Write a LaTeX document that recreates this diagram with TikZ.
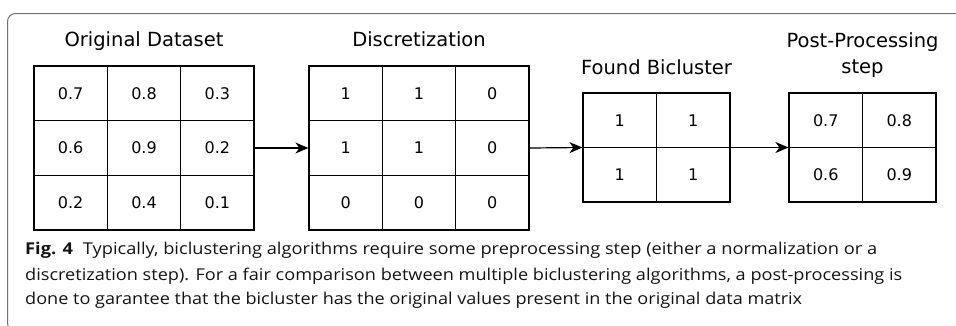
\documentclass[tikz,border=0pt]{standalone}
\usepackage{fontspec}
\usepackage{graphicx}
\setmainfont{DejaVu Sans}
\newfontfamily\capfont{Open Sans}
\usetikzlibrary{arrows.meta}
\definecolor{framec}{gray}{0.45}
\definecolor{capc}{gray}{0.08}
\tikzset{
  cell/.style={draw, line width=1.2pt, minimum width=73.33pt, minimum height=54.67pt, inner sep=0pt, font=\fontsize{16}{19}\selectfont},
  cellb/.style={cell, minimum width=73.5pt, minimum height=54.5pt},
  gridbox/.style={draw, line width=1.2pt, inner sep=0pt},
  gtitle/.style={anchor=base, inner sep=0pt, align=center, font=\fontsize{19.5}{26}\selectfont},
  arr/.style={line width=1.2pt, -{Stealth[length=13pt,width=11pt,inset=4pt]}},
  capline/.style={anchor=base west, inner sep=0pt, text=capc}
}
\newcommand\capf{\capfont\fontsize{16.3}{18}\selectfont}
\begin{document}
\begin{tikzpicture}[x=1pt,y=-1pt]
\useasboundingbox (0,0) rectangle (956,325);
\clip (0,0) rectangle (956,325);
% frame
\draw[framec, line width=1pt, rounded corners=8pt] (7.5,13.5) rectangle (990,331);
% grid boxes
\node[gridbox, minimum width=220pt, minimum height=164pt] (orig) at (144,148) {};
\node[gridbox, minimum width=220pt, minimum height=164pt] (disc) at (419,148) {};
\node[gridbox, minimum width=147pt, minimum height=109pt] (found) at (656.5,147.5) {};
\node[gridbox, minimum width=147pt, minimum height=109pt] (post) at (862.5,147.5) {};
% cells
\foreach \row [count=\i] in {{0.7,0.8,0.3},{0.6,0.9,0.2},{0.2,0.4,0.1}}
  \foreach \v [count=\j] in \row
    \node[cell] (o-\i-\j) at ({34+73.33*(\j-0.5)},{66+54.67*(\i-0.5)}) {\v};
\foreach \row [count=\i] in {{1,1,0},{1,1,0},{0,0,0}}
  \foreach \v [count=\j] in \row
    \node[cell] (d-\i-\j) at ({309+73.33*(\j-0.5)},{66+54.67*(\i-0.5)}) {\v};
\foreach \row [count=\i] in {{1,1},{1,1}}
  \foreach \v [count=\j] in \row
    \node[cellb] (f-\i-\j) at ({583+73.5*(\j-0.5)},{93+54.5*(\i-0.5)}) {\v};
\foreach \row [count=\i] in {{0.7,0.8},{0.6,0.9}}
  \foreach \v [count=\j] in \row
    \node[cellb] (p-\i-\j) at ({789+73.5*(\j-0.5)},{93+54.5*(\i-0.5)}) {\v};
% titles
\node[gtitle] (t1) at (144,46) {Original Dataset};
\node[gtitle] (t2) at (419,46) {Discretization};
\node[gtitle] (t3) at (656.5,74) {Found Bicluster};
\node[gtitle] (t4) at (862.5,73) {Post-Processing\\step};
% arrows
\draw[arr] (orig.east) -- (disc.west);
\draw[arr] (disc.east) -- (found.west);
\draw[arr] (found.east) -- (post.west);
% caption
\node[capline] (c1) at (25,254) {\resizebox{852pt}{\height}{\capf\textbf{Fig. 4}\hspace{0.55em}Typically, biclustering algorithms require some preprocessing step (either a normalization or a}};
\node[capline] (c2) at (25,280) {\resizebox{877pt}{\height}{\capf discretization step). For a fair comparison between multiple biclustering algorithms, a post-processing is}};
\node[capline] (c3) at (25,304.5) {\resizebox{777pt}{\height}{\capf done to garantee that the bicluster has the original values present in the original data matrix}};
\end{tikzpicture}
\end{document}
